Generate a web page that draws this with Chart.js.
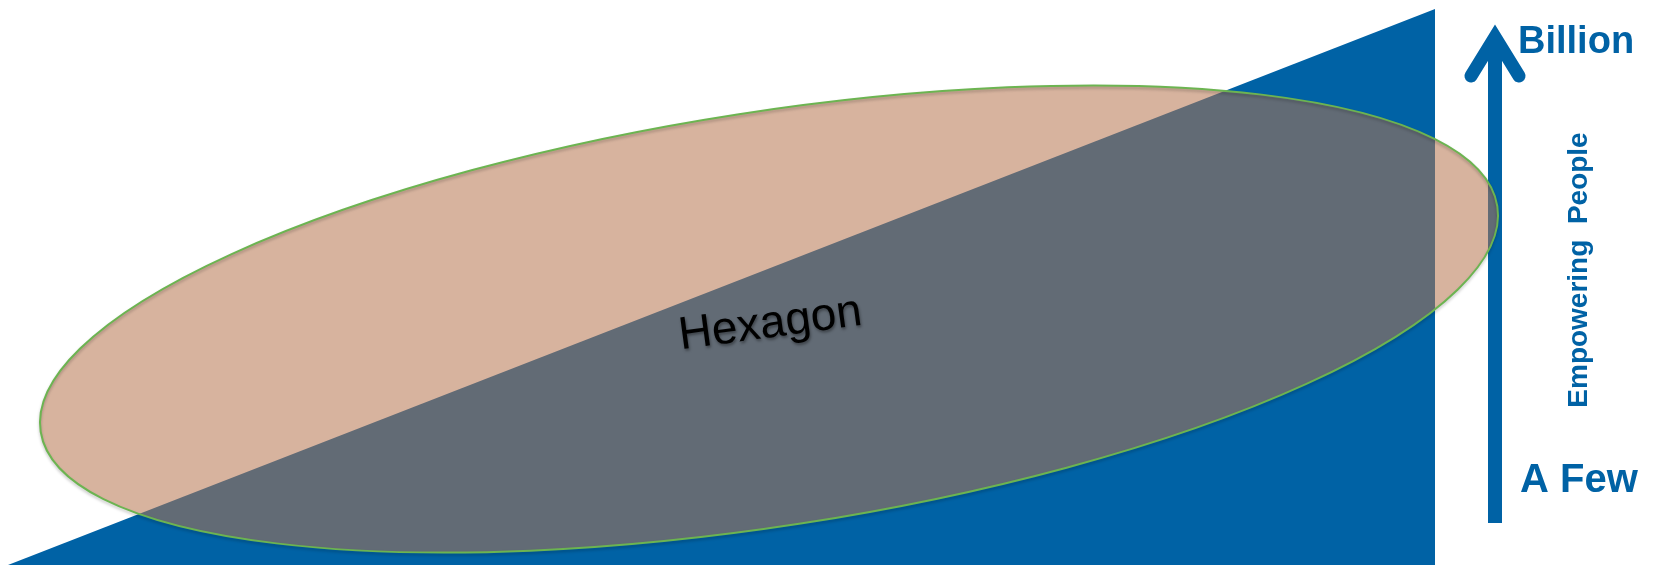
<!DOCTYPE html>
<html lang="en">

<head>
    <meta charset="UTF-8">
    <title>Empowering People</title>
    <script src="https://cdn.jsdelivr.net/npm/chart.js@4.4.0/dist/chart.umd.min.js"></script>
    <style>
        html, body { margin: 0; padding: 0; background: #fff; }
        #box { width: 1653px; height: 565px; position: relative; }
    </style>
</head>

<body>
    <div id="box"><canvas id="chart"></canvas></div>
    <script>
        // Plot space is 1653 x 565 units, y going up
        var slopeX = [8, 1435];
        var slopeY = [0, 556];

        var shaftX = [1495, 1495];
        var shaftY = [42, 525];
        var headX = [1471, 1495, 1519];
        var headY = [489, 528, 489];

        // Ellipse: center, half axes, tilt in degrees
        var ellipseCenter = [769, 246];
        var ellipseRadii = [737, 207];
        var ellipseTilt = 8.8;

        var labels = ["Hexagon", "Billion", "A Few", "Empowering  People"];
        var labelX = [772, 1518, 1520, 1587];
        var labelY = [228, 512, 73, 295];

        var blue = "#0062a5";

        function pts(xs, ys) {
            return xs.map(function (x, i) { return { x: x, y: ys[i] }; });
        }

        // Shadow for the blue slope
        var shadowPlugin = {
            id: "slopeShadow",
            beforeDatasetDraw: function (chart, args) {
                if (args.index !== 0) return;
                var ctx = chart.ctx;
                ctx.save();
                ctx.shadowColor = "rgba(0,0,0,0.3)";
                ctx.shadowBlur = 7;
                ctx.shadowOffsetX = 3;
            },
            afterDatasetDraw: function (chart, args) {
                if (args.index !== 0) return;
                chart.ctx.restore();
            }
        };

        // Ellipse and texts on top
        var overlayPlugin = {
            id: "overlay",
            afterDatasetsDraw: function (chart) {
                var ctx = chart.ctx;
                var sx = chart.scales.x, sy = chart.scales.y;
                var cx = sx.getPixelForValue(ellipseCenter[0]);
                var cy = sy.getPixelForValue(ellipseCenter[1]);
                var rx = sx.getPixelForValue(ellipseCenter[0] + ellipseRadii[0]) - cx;
                var ry = cy - sy.getPixelForValue(ellipseCenter[1] + ellipseRadii[1]);
                var tilt = -ellipseTilt * Math.PI / 180;

                ctx.save();
                ctx.beginPath();
                ctx.ellipse(cx, cy, rx, ry, tilt, 0, 2 * Math.PI);
                ctx.fillStyle = "rgba(181,114,75,0.54)";
                ctx.fill();
                ctx.shadowColor = "rgba(0,0,0,0.25)";
                ctx.shadowBlur = 3;
                ctx.shadowOffsetY = 2;
                ctx.strokeStyle = "#6cb451";
                ctx.lineWidth = 2;
                ctx.stroke();
                ctx.restore();

                // Hexagon
                ctx.save();
                ctx.translate(sx.getPixelForValue(labelX[0]), sy.getPixelForValue(labelY[0]));
                ctx.rotate(-7.7 * Math.PI / 180);
                ctx.font = "46px 'Liberation Sans', Arial, sans-serif";
                ctx.textAlign = "center";
                ctx.textBaseline = "alphabetic";
                ctx.shadowColor = "rgba(0,0,0,0.4)";
                ctx.shadowBlur = 3;
                ctx.shadowOffsetX = 1;
                ctx.shadowOffsetY = 2;
                ctx.fillStyle = "#000";
                ctx.fillText(labels[0], 0, 0);
                ctx.restore();

                // Billion / A Few
                ctx.save();
                ctx.fillStyle = blue;
                ctx.textAlign = "left";
                ctx.textBaseline = "alphabetic";
                ctx.font = "bold 38px 'Liberation Sans', Arial, sans-serif";
                ctx.fillText(labels[1], sx.getPixelForValue(labelX[1]), sy.getPixelForValue(labelY[1]));
                ctx.font = "bold 40px 'Liberation Sans', Arial, sans-serif";
                ctx.fillText(labels[2], sx.getPixelForValue(labelX[2]), sy.getPixelForValue(labelY[2]));

                // Empowering People, vertical
                ctx.translate(sx.getPixelForValue(labelX[3]), sy.getPixelForValue(labelY[3]));
                ctx.rotate(-Math.PI / 2);
                ctx.textAlign = "center";
                ctx.font = "bold 28px 'Liberation Sans', Arial, sans-serif";
                ctx.fillText(labels[3], 0, 0);
                ctx.restore();
            }
        };

        var ctx = document.getElementById("chart").getContext("2d");
        var chart = new Chart(ctx, {
            type: "line",
            data: {
                datasets: [{
                    data: pts(slopeX, slopeY),
                    borderWidth: 0,
                    backgroundColor: blue,
                    fill: "origin",
                    pointRadius: 0,
                    tension: 0
                }, {
                    data: pts(shaftX, shaftY),
                    borderColor: blue,
                    borderWidth: 14,
                    borderCapStyle: "butt",
                    fill: false,
                    pointRadius: 0
                }, {
                    data: pts(headX, headY),
                    borderColor: blue,
                    borderWidth: 13,
                    borderCapStyle: "round",
                    borderJoinStyle: "miter",
                    fill: false,
                    pointRadius: 0,
                    tension: 0
                }]
            },
            options: {
                responsive: true,
                maintainAspectRatio: false,
                animation: false,
                events: [],
                layout: { padding: 0 },
                clip: false,
                plugins: {
                    legend: { display: false },
                    tooltip: { enabled: false }
                },
                scales: {
                    x: { type: "linear", min: 0, max: 1653, display: false },
                    y: { type: "linear", min: 0, max: 565, display: false }
                }
            },
            plugins: [shadowPlugin, overlayPlugin]
        });
    </script>
</body>

</html>
